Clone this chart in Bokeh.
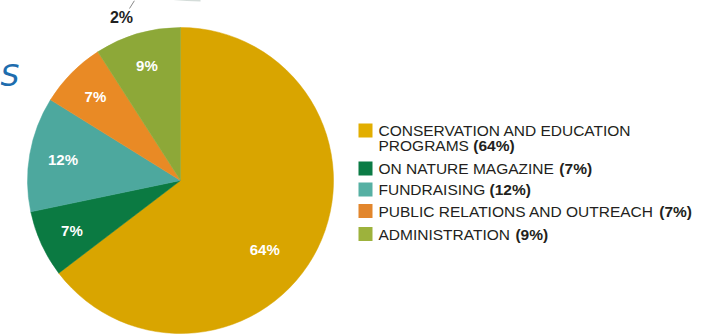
import math
from bokeh.plotting import figure
from bokeh.models import ColumnDataSource, Range1d
from bokeh.core.properties import value
from bokeh.embed import file_html
from bokeh.resources import INLINE

# ---- data ----
categories = ["CONSERVATION AND EDUCATION PROGRAMS", "ON NATURE MAGAZINE",
              "FUNDRAISING", "PUBLIC RELATIONS AND OUTREACH", "ADMINISTRATION"]
legend_lines = [["CONSERVATION AND EDUCATION", "PROGRAMS"], ["ON NATURE MAGAZINE"],
                ["FUNDRAISING"], ["PUBLIC RELATIONS AND OUTREACH"], ["ADMINISTRATION"]]
percents = [64, 7, 12, 7, 9]
slice_colors = ["#D9A500", "#0B7A42", "#4DA89E", "#E98A25", "#8DA838"]
legend_colors = ["#E2AE00", "#0B7B45", "#56B0A3", "#E2862C", "#9DB23C"]
other_label = "2%"

# Arial / Liberation Sans advance widths (1/1000 em) for placing the bold suffix
ARIAL = {" ": 278, "A": 667, "B": 667, "C": 722, "D": 722, "E": 667, "F": 611,
         "G": 778, "H": 722, "I": 278, "J": 500, "K": 667, "L": 556, "M": 833,
         "N": 722, "O": 778, "P": 667, "Q": 778, "R": 722, "S": 667, "T": 611,
         "U": 722, "V": 667, "W": 944, "X": 667, "Y": 667, "Z": 611}

def text_width(s, size):
    return sum(ARIAL.get(ch, 600) for ch in s) * size / 1000.0

W, H = 724, 334
p = figure(width=W, height=H, output_backend="svg", toolbar_location=None,
           x_range=Range1d(0, W), y_range=Range1d(0, H), min_border=0,
           outline_line_color=None)
p.axis.visible = False
p.grid.visible = False
p.background_fill_color = "white"
p.border_fill_color = "white"

def Y(py):
    return H - py

cx, cy, r = 180, Y(180), 153
total = float(sum(percents))
starts, ends, lx, ly, labels = [], [], [], [], []
cum = 0.0
for v in percents:
    a0 = math.pi / 2 - 2 * math.pi * (cum + v) / total
    a1 = math.pi / 2 - 2 * math.pi * cum / total
    starts.append(a0)
    ends.append(a1)
    if v >= 50:
        la = a1 - 0.555 * (a1 - a0)
        rr = 0.71 * r
    else:
        la = (a0 + a1) / 2
        rr = 0.78 * r
    lx.append(cx + rr * math.cos(la))
    ly.append(cy + rr * math.sin(la))
    labels.append(f"{v}%")
    cum += v

src = ColumnDataSource(dict(start=starts, end=ends, color=slice_colors,
                            lx=lx, ly=ly, label=labels))
p.wedge(x=cx, y=cy, radius=r, start_angle="start", end_angle="end",
        fill_color="color", line_color="color", line_width=0.5, source=src)
p.text(x="lx", y="ly", text="label", source=src, text_color="white",
       text_font=value("Liberation Sans"), text_font_style="bold",
       text_font_size="15px", text_align="center", text_baseline="middle")

# fragments from the surrounding page
p.arc(x=200, y=Y(0) + 300, radius=300, start_angle=-math.pi/2 - 0.145,
      end_angle=-math.pi/2 + 0.0, line_color="#a9bab3", line_width=1.5)
p.segment(x0=129, y0=Y(8), x1=134, y1=Y(0), line_color="#888888", line_width=1)
p.text(x=[121], y=[Y(17)], text=[other_label], text_color="#222222",
       text_font=value("Liberation Sans"), text_font_style="bold",
       text_font_size="16px", text_align="center", text_baseline="middle")
p.text(x=[0], y=[Y(75)], text=["S"], text_color="#1E6DAE",
       text_font=value("DejaVu Sans"), text_font_style="italic",
       text_font_size="30px", text_align="left", text_baseline="middle")

# ---- legend ----
FS = 15.5
sq_x, txt_x = 365, 378
row_y = [130, 168, 189, 210.5, 233.5]
sq = ColumnDataSource(dict(x=[sq_x] * 5, y=[Y(v) for v in row_y], c=legend_colors))
p.rect(x="x", y="y", width=14, height=14, fill_color="c", line_color=None, source=sq)

for i, lines in enumerate(legend_lines):
    for j, line in enumerate(lines):
        yy = Y(row_y[i] + 15 * j)
        p.text(x=[txt_x], y=[yy], text=[line], text_color="#231F20",
               text_font=value("Liberation Sans"), text_font_size=f"{FS}px",
               text_align="left", text_baseline="middle")
        if j == len(lines) - 1:
            sx = txt_x + text_width(line + " ", FS)
            p.text(x=[sx], y=[yy], text=[f"({percents[i]}%)"], text_color="#231F20",
                   text_font=value("Liberation Sans"), text_font_style="bold",
                   text_font_size=f"{FS}px", text_align="left", text_baseline="middle")

open("out.html", "w").write(file_html(p, INLINE))
